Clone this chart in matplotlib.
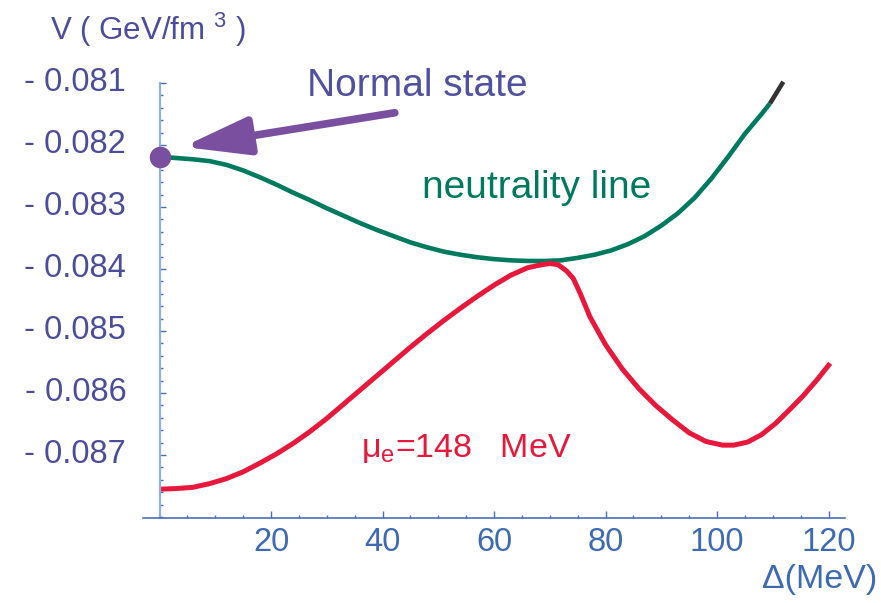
import matplotlib
matplotlib.use("Agg")
import matplotlib.pyplot as plt
from matplotlib.ticker import FixedLocator, MultipleLocator, FixedFormatter
from matplotlib.transforms import ScaledTranslation

plt.rcParams['font.family'] = ['Liberation Sans', 'DejaVu Sans']
plt.rcParams['mathtext.default'] = 'regular'

# neutrality line
green_x = [0, 3, 6, 9, 12, 15, 18, 21, 24, 27, 30, 33, 36, 39, 42, 45, 48, 51,
           54, 57, 60, 63, 66, 69, 72, 75, 78, 81, 84, 87, 90, 93, 96, 99, 102,
           105, 108, 109.5]
green_y = [-0.08219, -0.08221, -0.08223, -0.08226, -0.08232, -0.08241, -0.08252,
           -0.08264, -0.08277, -0.08289, -0.08302, -0.08314, -0.08326, -0.08337,
           -0.08347, -0.08357, -0.08365, -0.08372, -0.08377, -0.08381, -0.08384,
           -0.08386, -0.08387, -0.08387, -0.08386, -0.08382, -0.08377, -0.08370,
           -0.08360, -0.08347, -0.08330, -0.08310, -0.08285, -0.08254, -0.08219,
           -0.08182, -0.08150, -0.08133]
# short dark piece at the end of the neutrality line
black_x = [109.5, 111.9]
black_y = [-0.08133, -0.08098]

# mu_e = 148 MeV curve
red_x = [0, 3, 6, 9, 12, 15, 18, 21, 24, 27, 30, 33, 36, 39, 42, 45, 48, 51, 54,
         57, 60, 63, 66, 68, 70, 71.5, 73, 74.2, 75.5, 77.2, 80, 83, 86, 89, 92,
         95, 98, 101, 103, 105.5, 108, 110.5, 113, 115.5, 118, 120.3]
red_y = [-0.08755, -0.08754, -0.08752, -0.08746, -0.08738, -0.08727, -0.08713,
         -0.08698, -0.08681, -0.08662, -0.08641, -0.08618, -0.08595, -0.08572,
         -0.08549, -0.08526, -0.08504, -0.08483, -0.08463, -0.08444, -0.08426,
         -0.08410, -0.08398, -0.08394, -0.08391, -0.08393, -0.08403, -0.08415,
         -0.08440, -0.08477, -0.08522, -0.08561, -0.08593, -0.08620, -0.08643,
         -0.08664, -0.08678, -0.08684, -0.08684, -0.08679, -0.08667, -0.08649,
         -0.08627, -0.08604, -0.08578, -0.08552]

# normal state point and arrow
normal_x, normal_y = 0, -0.08219
arrow_tail = (42.2, -0.08148)
arrow_head = (4.2, -0.08203)

y_ticks = [-0.081, -0.082, -0.083, -0.084, -0.085, -0.086, -0.087]
y_labels = ['- %.3f' % abs(v) for v in y_ticks]
x_ticks = [20, 40, 60, 80, 100, 120]

fig = plt.figure(figsize=(8.81, 6.03), dpi=100)
ax = fig.add_axes([0.1621, 0.14146, 0.7973, 0.73118])
ax.set_xlim(-3, 123)
ax.set_ylim(-0.08801, -0.0809)

ax.plot(green_x, green_y, color='#007a5e', lw=3.3, solid_capstyle='butt',
        solid_joinstyle='round')
ax.plot(black_x, black_y, color='#333333', lw=3.3, solid_capstyle='butt')
ax.plot(red_x, red_y, color='#e8173c', lw=3.6, solid_capstyle='butt',
        solid_joinstyle='round')
ax.plot(normal_x, normal_y, 'o', color='#7b4fa0', ms=14.5, clip_on=False, zorder=5)

ax.annotate('', xy=arrow_head, xytext=arrow_tail,
            arrowprops=dict(arrowstyle='-|>,head_length=4.0,head_width=1.15',
                            mutation_scale=10, color='#7b4fa0', lw=5.5,
                            shrinkA=0, shrinkB=0))

# spines
for s in ['top', 'right']:
    ax.spines[s].set_visible(False)
ax.spines['left'].set_position(('data', 0))
ax.spines['left'].set_bounds(-0.08801, -0.081)
ax.spines['left'].set_color('#92aee0')
ax.spines['left'].set_linewidth(1.6)
ax.spines['bottom'].set_color('#4a70b8')
ax.spines['bottom'].set_linewidth(1.2)

ax.yaxis.set_major_locator(FixedLocator(y_ticks))
ax.yaxis.set_major_formatter(FixedFormatter(y_labels))
ax.yaxis.set_minor_locator(MultipleLocator(0.0002))
ax.xaxis.set_major_locator(FixedLocator(x_ticks))
ax.xaxis.set_minor_locator(MultipleLocator(5))

ax.tick_params(axis='y', which='both', direction='in', colors='#4a6cb5', width=1.0,
               labelsize=23.5, labelcolor='#4c4c9c', pad=24)
ax.tick_params(axis='y', which='major', length=4.5)
ax.tick_params(axis='y', which='minor', length=2.5)
ax.tick_params(axis='x', which='both', direction='in', colors='#4a6cb5', width=1.0,
               labelsize=23.5, labelcolor='#3d6ab3', pad=7)
ax.tick_params(axis='x', which='major', length=5)
ax.tick_params(axis='x', which='minor', length=2.5)

# tick labels sit a little above their ticks in the original
for lab in ax.get_yticklabels():
    lab.set_transform(lab.get_transform() + ScaledTranslation(0, 0.04, fig.dpi_scale_trans))

# annotations
ax.text(26.5, -0.08121, 'Normal state', color='#5050a0', fontsize=28,
        ha='left', va='baseline')
ax.text(47.1, -0.082855, 'neutrality line', color='#007a5e', fontsize=28,
        ha='left', va='baseline')
ax.text(36.1, -0.08703, r'$\mu_e$=148   MeV', color='#e8173c', fontsize=24.5,
        ha='left', va='baseline')

fig.text(50 / 881, 1 - 40 / 603, r'V ( GeV/fm $^{3}$ )', color='#4c4c9c',
         fontsize=22.5, ha='left', va='baseline')
fig.text(877 / 881, 1 - 588 / 603, 'Δ(MeV)', color='#3d6ab3', fontsize=24.5,
         ha='right', va='baseline')

fig.savefig('out.png', dpi=100)
